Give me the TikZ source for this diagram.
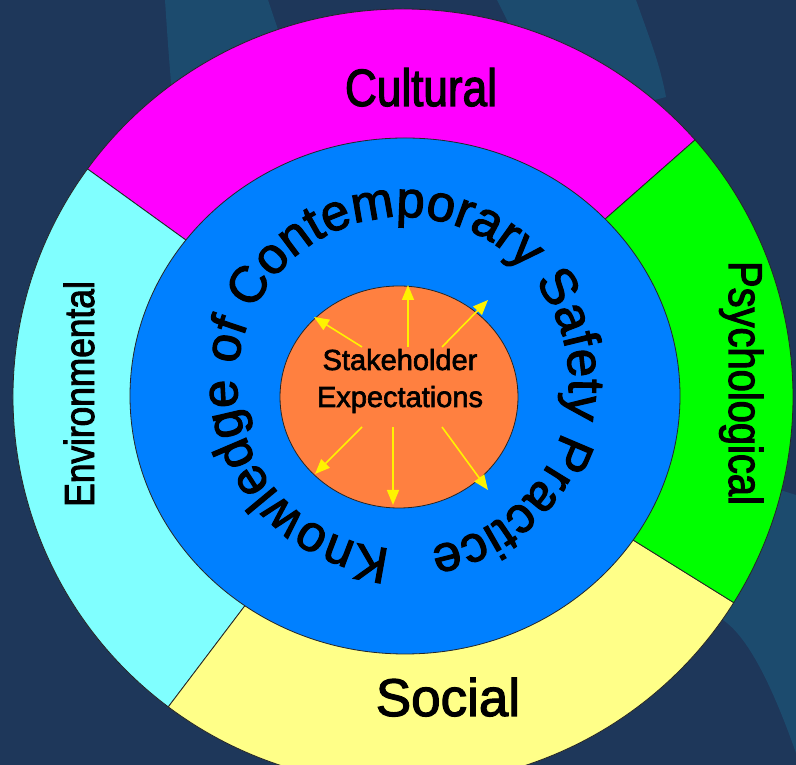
\documentclass[tikz,border=0pt]{standalone}
\usepackage{fontspec}
\setmainfont{Liberation Sans}[FakeBold=2.2]
\newfontfamily\narrowsf[FakeStretch=0.84,FakeBold=2.2]{Liberation Sans}
\usetikzlibrary{arrows.meta,decorations.text,shapes.geometric}

\definecolor{navy}{HTML}{1E375A}
\definecolor{wave}{HTML}{1C4B6E}
\definecolor{culturecol}{HTML}{FF00FF}
\definecolor{psychcol}{HTML}{00FF00}
\definecolor{socialcol}{HTML}{FFFF88}
\definecolor{environcol}{HTML}{80FFFF}
\definecolor{knowcol}{HTML}{0080FF}
\definecolor{stakecol}{HTML}{FF8040}

\newcommand{\curvefont}{\fontsize{51}{51}\selectfont}

\begin{document}
\begin{tikzpicture}[x=1pt,y=1pt,
	seg/.style={draw=black!85, line width=0.8pt},
	ringtext/.style={inner sep=0pt, anchor=base, text=black},
	ray/.style={draw=yellow, line width=1.6pt, -{Triangle[length=15pt,width=12pt]}}]
	\useasboundingbox (0,0) rectangle (796,765);
	\clip (0,0) rectangle (796,765);
	
	% background
	\fill[navy] (0,0) rectangle (796,765);
	\fill[wave] (165,765) .. controls (168,720) .. (172,670) -- (300,670) -- (268,765) -- cycle;
	\fill[wave] (497,765) -- (636,765) .. controls (652,720) and (660,700) .. (666,668) -- (560,640) -- cycle;
	\fill[wave] (796,270) -- (796,12) .. controls (772,80) and (748,128) .. (723,145) -- (700,300) -- cycle;
	
	% outer ring
	\coordinate (ring) at (403,368);
	\filldraw[seg, fill=culturecol] (ring) -- ++(41.5:390pt and 388pt)
		arc[start angle=41.5, end angle=144, x radius=390pt, y radius=388pt] -- cycle;
	\filldraw[seg, fill=environcol] (ring) -- ++(144:390pt and 388pt)
		arc[start angle=144, end angle=233, x radius=390pt, y radius=388pt] -- cycle;
	\filldraw[seg, fill=socialcol] (ring) -- ++(233:390pt and 388pt)
		arc[start angle=233, end angle=328, x radius=390pt, y radius=388pt] -- cycle;
	\filldraw[seg, fill=psychcol] (ring) -- ++(-32:390pt and 388pt)
		arc[start angle=-32, end angle=41.5, x radius=390pt, y radius=388pt] -- cycle;
	
	% inner discs
	\node[seg, fill=knowcol, ellipse, inner sep=0pt, minimum width=550pt, minimum height=516pt] (know) at (405,369) {};
	\node[seg, fill=stakecol, ellipse, inner sep=0pt, minimum width=238pt, minimum height=222pt] (core) at (399,368) {};
	
	% curved title
	\path[decorate, decoration={text along path, text align=center,
		text={|\curvefont|Knowledge of Contemporary Safety Practice}}]
		(403,382) ++(268:166pt) arc[start angle=268, end angle=-83, radius=166pt];
	
	% ring labels
	\node[ringtext, font=\narrowsf\fontsize{52.5}{52.5}\selectfont] (cultural) at (421,659) {Cultural};
	\node[ringtext, font=\fontsize{53}{53}\selectfont] (social) at (448,49) {Social};
	\node[ringtext, rotate=-90, font=\narrowsf\fontsize{47.5}{47.5}\selectfont] (psych) at (729,382) {Psychological};
	\node[ringtext, rotate=90, font=\narrowsf\fontsize{42}{42}\selectfont] (environ) at (94,371) {Environmental};
	
	\node[align=center, inner sep=0pt, font=\fontsize{29}{37}\selectfont] (stake) at (400,384) {Stakeholder\\Expectations};
	
	% arrows out of the centre
	\coordinate (a1) at (362,418); \coordinate (b1) at (314,448);
	\coordinate (a2) at (408,418); \coordinate (b2) at (408,480);
	\coordinate (a3) at (442,418); \coordinate (b3) at (488,465);
	\coordinate (a4) at (362,338); \coordinate (b4) at (315,291);
	\coordinate (a5) at (393,338); \coordinate (b5) at (393,260);
	\coordinate (a6) at (442,338); \coordinate (b6) at (488,275);
	\draw[ray] (a1) -- (b1);
	\draw[ray] (a2) -- (b2);
	\draw[ray] (a3) -- (b3);
	\draw[ray] (a4) -- (b4);
	\draw[ray] (a5) -- (b5);
	\draw[ray] (a6) -- (b6);
\end{tikzpicture}
\end{document}
